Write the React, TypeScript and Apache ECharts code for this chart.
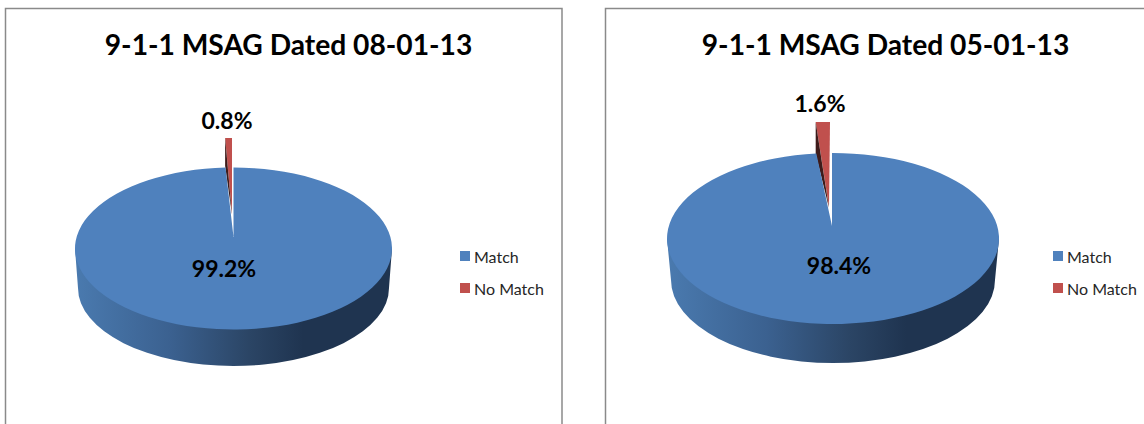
import React, { useEffect, useRef } from "react";
import * as echarts from "echarts";

const titles = ["9-1-1 MSAG Dated 08-01-13", "9-1-1 MSAG Dated 05-01-13"];
const categories = ["Match", "No Match"];
const matchValues = [99.2, 98.4];
const noMatchValues = [0.8, 1.6];

const FONT = "Lato, Carlito, 'Open Sans', sans-serif";
const BLUE = "#4f81bd";
const RED = "#c0504d";
const DARK_RED = "#3e1b1a";

const layouts = [
  { cx: 233.5, cy: 248.5, rx: 158.5, ry: 81, rxb: 155.5, ryb: 78, cyb: 288, apexX: 233.5, apexY: 237, redDx: -1.5, redTop: 138, redApexX: 232, redApexY: 214, sideDrop: 28, matchLabel: [224, 268], redLabel: [227, 120], titleX: 283.5, legendX: 455 },
  { cx: 833, cy: 238.5, rx: 166, ry: 85.5, rxb: 162, ryb: 83, cyb: 280, apexX: 832, apexY: 226, redDx: -3, redTop: 122, redApexX: 829, redApexY: 207, sideDrop: 32, matchLabel: [839, 265], redLabel: [820, 103], titleX: 880.5, legendX: 1048 },
];

const labelStyle = (text: string, pos: number[]) => ({
  type: "text",
  x: pos[0],
  y: pos[1],
  style: { text, fill: "#000", font: `bold 23px ${FONT}`, align: "center", verticalAlign: "middle" },
});

function renderMatch(i: number) {
  return (_: any, api: any) => {
    const l = layouts[i];
    const v = api.value(0);
    const a = (v / 100) * Math.PI * 2;
    const ex = l.cx + l.rx * Math.sin(a);
    const ey = l.cy - l.ry * Math.cos(a);
    const side =
      `M${l.cx - l.rx} ${l.cy} L${l.cx - l.rxb} ${l.cyb} ` +
      `A${l.rxb} ${l.ryb} 0 0 0 ${l.cx + l.rxb} ${l.cyb} L${l.cx + l.rx} ${l.cy} Z`;
    const top = `M${l.apexX} ${l.apexY} L${l.apexX} ${l.cy - l.ry} A${l.rx} ${l.ry} 0 1 1 ${ex} ${ey} Z`;
    return {
      type: "group",
      children: [
        {
          type: "path",
          shape: { pathData: side },
          style: {
            fill: {
              type: "linear", x: 0, y: 0, x2: 1, y2: 0,
              colorStops: [
                { offset: 0, color: "#4a7aaf" },
                { offset: 0.3, color: "#3b6190" },
                { offset: 0.55, color: "#2b4565" },
                { offset: 0.72, color: "#1f3450" },
                { offset: 1, color: "#1f3450" },
              ],
            },
          },
        },
        { type: "path", shape: { pathData: top }, style: { fill: BLUE } },
        labelStyle(`${v}%`, l.matchLabel),
      ],
    };
  };
}

function renderNoMatch(i: number) {
  return (_: any, api: any) => {
    const l = layouts[i];
    const v = api.value(0);
    const a = (v / 100) * Math.PI * 2;
    const rightX = l.cx + l.redDx;
    const leftX = rightX - 0.86 * l.rx * Math.sin(a);
    const face = [[l.redApexX, l.redApexY], [leftX, l.redTop], [rightX, l.redTop]];
    const wall = [[l.redApexX, l.redApexY + 1], [leftX, l.redTop], [leftX, l.redTop + l.sideDrop]];
    return {
      type: "group",
      children: [
        { type: "polygon", shape: { points: face }, style: { fill: RED } },
        { type: "polygon", shape: { points: wall }, style: { fill: DARK_RED } },
        labelStyle(`${v}%`, l.redLabel),
      ],
    };
  };
}

export default function App() {
  const ref = useRef<HTMLDivElement>(null);
  useEffect(() => {
    document.body.style.margin = "0";
    const chart = echarts.init(ref.current!, undefined, { renderer: "svg" });
    const series: any[] = [];
    layouts.forEach((_, i) => {
      series.push({
        type: "custom", name: categories[1], coordinateSystem: "none",
        data: [[noMatchValues[i]]], itemStyle: { color: RED }, renderItem: renderNoMatch(i), silent: true,
      });
      series.push({
        type: "custom", name: categories[0], coordinateSystem: "none",
        data: [[matchValues[i]]], itemStyle: { color: BLUE }, renderItem: renderMatch(i), silent: true,
      });
    });
    chart.setOption({
      animation: false,
      backgroundColor: "#fff",
      title: titles.map((t, i) => ({
        text: t,
        left: layouts[i].titleX,
        top: 25,
        textAlign: "center",
        textStyle: { fontFamily: FONT, fontWeight: "bold", fontSize: 28.2, color: "#000" },
      })),
      legend: layouts.map((l) => ({
        data: categories,
        orient: "vertical",
        left: l.legendX,
        top: 243,
        icon: "rect",
        itemWidth: 10,
        itemHeight: 10,
        itemGap: 16,
        selectedMode: false,
        textStyle: { fontFamily: FONT, fontSize: 16, color: "#262626", padding: [0, 0, 0, -1] },
      })),
      graphic: [
        { type: "rect", shape: { x: 5.5, y: 8.5, width: 556.5, height: 600 }, style: { fill: "none", stroke: "#8a8a8a", lineWidth: 1.5 }, silent: true },
        { type: "rect", shape: { x: 605.5, y: 8.5, width: 700, height: 600 }, style: { fill: "none", stroke: "#8a8a8a", lineWidth: 1.5 }, silent: true },
      ],
      series,
    });
    return () => chart.dispose();
  }, []);
  return <div ref={ref} style={{ position: "absolute", left: 0, top: 0, width: 1144, height: 424 }} />;
}
